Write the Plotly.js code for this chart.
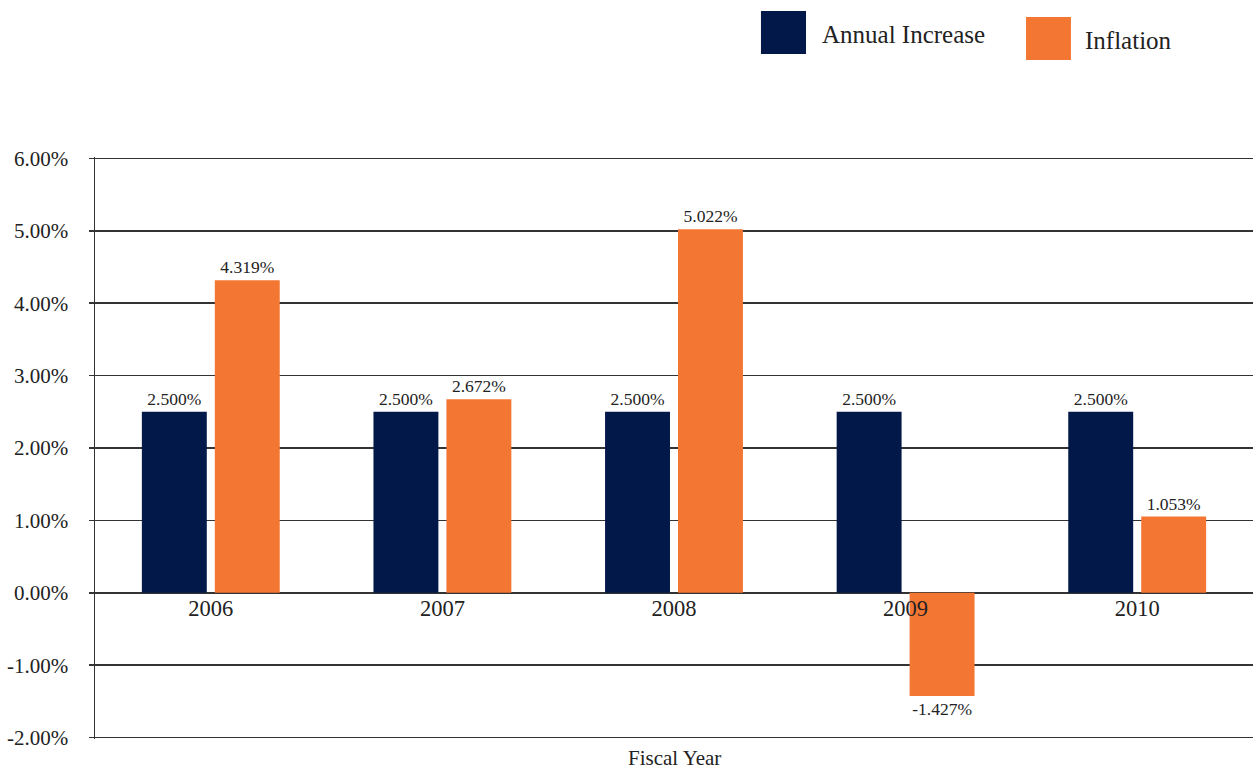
<!DOCTYPE html>
<html>
<head>
<meta charset="utf-8">
<script src="https://cdn.plot.ly/plotly-3.0.1.min.js"></script>
<style>html,body{margin:0;padding:0;background:#fff;}#chart{width:1253px;height:773px;}</style>
</head>
<body>
<div id="chart"></div>
<script>
var years = ['2006', '2007', '2008', '2009', '2010'];
var annualIncrease = [2.5, 2.5, 2.5, 2.5, 2.5];
var inflation = [4.319, 2.672, 5.022, -1.427, 1.053];
var yTickVals = [-2, -1, 0, 1, 2, 3, 4, 5, 6];
var yTickText = ['-2.00%', '-1.00%', '0.00%', '1.00%', '2.00%', '3.00%', '4.00%', '5.00%', '6.00%'];
var seriesNames = ['Annual Increase', 'Inflation'];
var navy = '#011848', orange = '#F47633';
var FONT = 'Liberation Serif, DejaVu Serif, serif';

function fmt(v){ return v.toFixed(3) + '%'; }

var traces = [
  {type:'bar', name: seriesNames[0], x: years, y: annualIncrease,
   marker:{color: navy}, text: annualIncrease.map(fmt), textposition:'outside',
   textfont:{family: FONT, size: 17.5, color:'#222'}, cliponaxis:false, constraintext:'none', hoverinfo:'none'},
  {type:'bar', name: seriesNames[1], x: years, y: inflation,
   marker:{color: orange}, text: inflation.map(fmt), textposition:'outside',
   textfont:{family: FONT, size: 17.5, color:'#222'}, cliponaxis:false, constraintext:'none', hoverinfo:'none'}
];

var layout = {
  width: 1253, height: 773,
  margin: {l: 95, r: 0, t: 157, b: 34},
  paper_bgcolor: '#fff', plot_bgcolor: '#fff',
  font: {family: FONT, color: '#222'},
  showlegend: false,
  barmode: 'group', bargap: 0.37, bargroupgap: 0.11,
  xaxis: {
    type: 'category', anchor: 'free', position: 0.2512,
    showline: false, showgrid: false, zeroline: false, ticks: '',
    tickfont: {family: FONT, size: 22.5, color: '#222'}
  },
  yaxis: {
    range: [-2.02, 6.02], tickvals: yTickVals, ticktext: yTickText,
    showgrid: true, gridcolor: '#333', gridwidth: 1.5,
    zeroline: true, zerolinecolor: '#333', zerolinewidth: 1.5,
    showline: true, linecolor: '#333', linewidth: 1.5,
    ticks: 'outside', ticklen: 5, tickcolor: '#333', tickwidth: 1.5,
    ticklabelstandoff: 16,
    tickfont: {family: FONT, size: 21, color: '#222'}
  },
  shapes: [
    {type:'rect', xref:'paper', yref:'paper', x0:0.5751, x1:0.6140, y0:1.1770, y1:1.2509, fillcolor: navy, line:{width:0}},
    {type:'rect', xref:'paper', yref:'paper', x0:0.8040, x1:0.8428, y0:1.1667, y1:1.2405, fillcolor: orange, line:{width:0}}
  ],
  annotations: [
    {xref:'paper', yref:'paper', x:0.6261, y:1.2113, xanchor:'left', yanchor:'middle', showarrow:false,
     text: seriesNames[0], font:{family: FONT, size: 25, color:'#222'}},
    {xref:'paper', yref:'paper', x:0.8532, y:1.2010, xanchor:'left', yanchor:'middle', showarrow:false,
     text: seriesNames[1], font:{family: FONT, size: 25, color:'#222'}},
    {xref:'paper', yref:'paper', x:0.5, y:0, xanchor:'center', yanchor:'top', yshift:-5, showarrow:false,
     text: 'Fiscal Year', font:{family: FONT, size: 21, color:'#222'}}
  ]
};

Plotly.newPlot('chart', traces, layout, {displayModeBar:false, staticPlot:true});
</script>
</body>
</html>
